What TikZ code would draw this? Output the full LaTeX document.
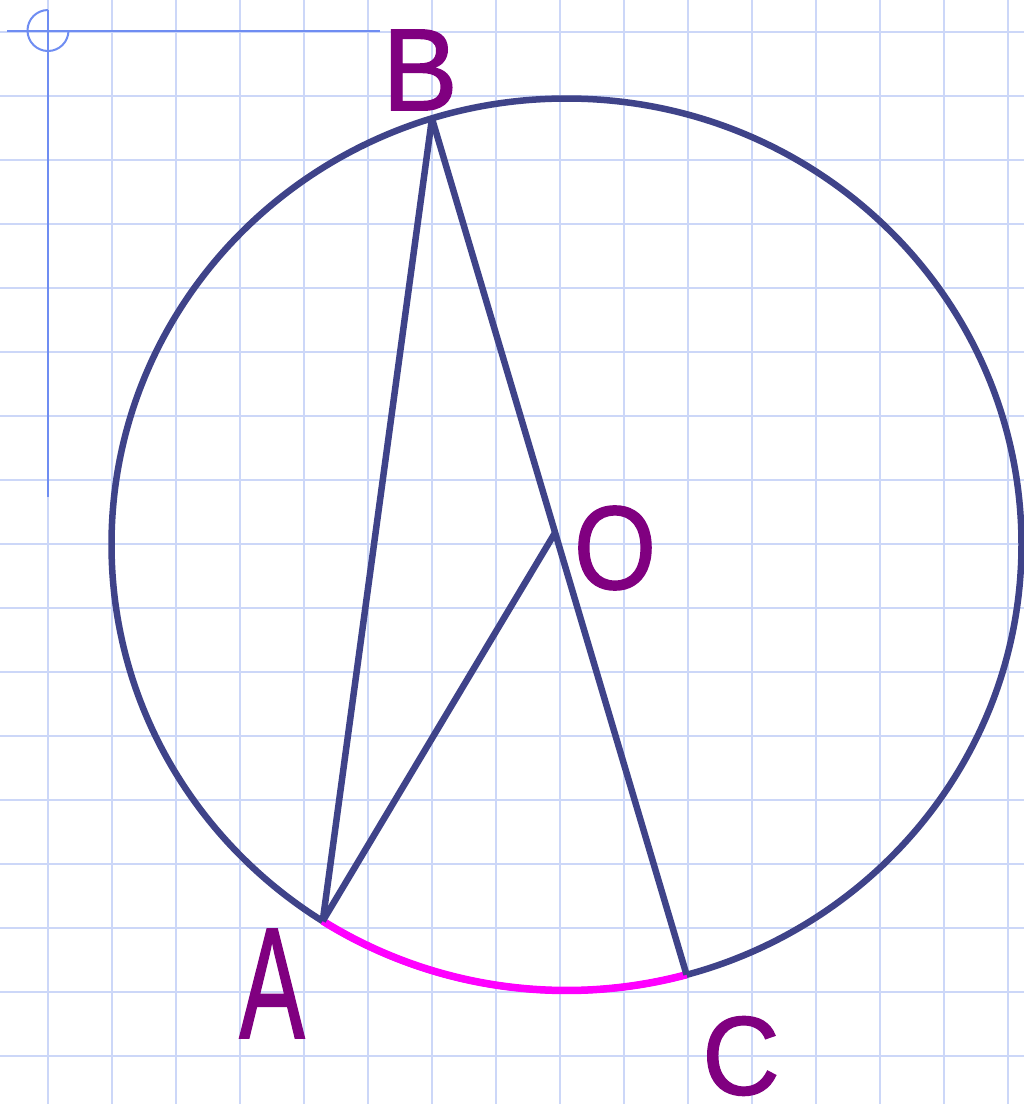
\documentclass[tikz,border=0pt]{standalone}
\usepackage{fontspec}
\setmainfont{Liberation Sans}
\newfontfamily\lblfont[FakeBold=1.2]{Liberation Sans}
\usetikzlibrary{calc}
\definecolor{gridc}{HTML}{CCD7F8}
\definecolor{axisc}{HTML}{6F8DF2}
\definecolor{linec}{HTML}{3F4389}
\definecolor{lblc}{HTML}{800080}
\definecolor{arcc}{HTML}{FF00FF}
\tikzset{
  gridline/.style={draw=gridc, line width=2pt},
  axisline/.style={draw=axisc, line width=2pt},
  figline/.style={draw=linec, line width=6.5pt},
  arcline/.style={draw=arcc, line width=7.5pt},
  lbl/.style={text=lblc, inner sep=0pt, anchor=center},
}
\begin{document}
\begin{tikzpicture}[x=1pt,y=-1pt]
\useasboundingbox[fill=white] (0,0) rectangle (1024,1104);
% grid
\foreach \i in {0,...,15} {\draw[gridline] (48+64*\i,0) -- (48+64*\i,1104);}
\foreach \j in {0,...,16} {\draw[gridline] (0,32+64*\j) -- (1024,32+64*\j);}
% axes
\coordinate (ax0) at (48,31);
\coordinate (axL) at (7,31);
\coordinate (axR) at (380,31);
\coordinate (axT) at (48,10);
\coordinate (axB) at (48,497);
\draw[axisline] (axL) -- (axR);
\draw[axisline] (axT) -- (axB);
\draw[axisline] (axT) arc[start angle=-90, end angle=-360, radius=20.5];
% circle
\coordinate (ctr) at (566.5,544.5);
\draw[figline] (ctr) ellipse [x radius=455, y radius=446];
\path (ctr) ++(122.4:455 and 446) coordinate (pA);
\path (ctr) ++(74.7:455 and 446) coordinate (pC);
\path (ctr) ++(-107.2:455 and 446) coordinate (pB);
\coordinate (pO) at ($(pB)!0.4837!(pC)$);
\draw[arcline] (pA) arc[start angle=122.4, end angle=74.7, x radius=455, y radius=446];
\draw[figline] (pB) -- (pA);
\draw[figline] (pB) -- (pC);
\draw[figline] (pO) -- (pA);
% labels
\node[lbl, font=\lblfont\fontsize{117}{117}\selectfont] (lB) at (420,70) {\scalebox{0.97}[1]{B}};
\node[lbl, font=\lblfont\fontsize{119}{119}\selectfont] (lO) at (615,548) {\scalebox{0.89}[1]{O}};
\node[lbl, font=\lblfont\fontsize{158}{158}\selectfont] (lA) at (272,983.5) {\scalebox{0.62}[1]{A}};
\node[lbl, font=\lblfont\fontsize{112}{112}\selectfont] (lC) at (741,1056) {\scalebox{0.96}[1]{C}};
\end{tikzpicture}
\end{document}
